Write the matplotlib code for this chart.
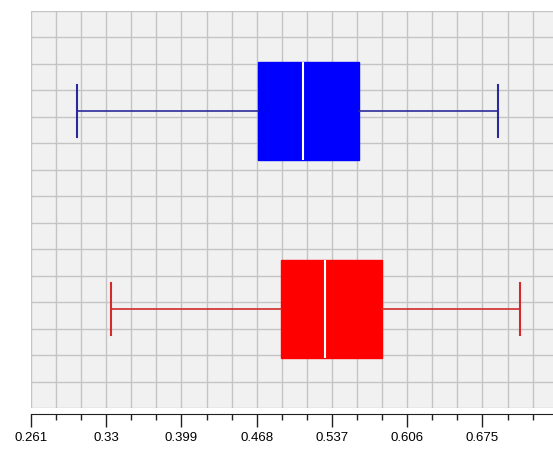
import matplotlib
matplotlib.use("Agg")
import matplotlib.pyplot as plt
import numpy as np
from matplotlib.ticker import MultipleLocator, FixedLocator

# box statistics (whisker low, q1, median, q3, whisker high)
series = ["blue", "red"]
whislo = [0.303, 0.334]
q1 = [0.469, 0.490]
med = [0.510, 0.531]
q3 = [0.562, 0.583]
whishi = [0.689, 0.709]

tick_labels = ["0.261", "0.33", "0.399", "0.468", "0.537", "0.606", "0.675"]
tick_values = [0.261, 0.330, 0.399, 0.468, 0.537, 0.606, 0.675]

BOX_COLORS = ["#0000FF", "#FF0000"]
WHISK_COLORS = ["#2A2A9A", "#D42A2A"]
positions = [3.77, 11.25]

fig = plt.figure(figsize=(5.53, 4.5), dpi=100)
ax = fig.add_axes([31 / 553, (450 - 408) / 450, (553 - 31) / 553, (408 - 11) / 450])
ax.set_facecolor("#F1F1F1")

for i in range(len(series)):
    stats = [{
        "whislo": whislo[i], "q1": q1[i], "med": med[i],
        "q3": q3[i], "whishi": whishi[i], "fliers": [],
    }]
    ax.bxp(stats, positions=[positions[i]], widths=3.7, vert=False,
           patch_artist=True, showfliers=False, manage_ticks=False,
           boxprops=dict(facecolor=BOX_COLORS[i], edgecolor=BOX_COLORS[i], linewidth=1),
           medianprops=dict(color="white", linewidth=1.5),
           whiskerprops=dict(color=WHISK_COLORS[i], linewidth=1.2),
           capprops=dict(color=WHISK_COLORS[i], linewidth=1.5),
           capwidths=1.95)

ax.set_xlim(0.261, 0.7397)
ax.set_ylim(15, 0)

ax.xaxis.set_major_locator(FixedLocator(tick_values))
ax.set_xticklabels(tick_labels)
ax.xaxis.set_minor_locator(MultipleLocator(0.023, offset=0.261))
ax.yaxis.set_major_locator(MultipleLocator(1))
ax.set_yticks([])
ax.set_yticks(np.arange(0, 16), minor=True)

ax.grid(True, which="minor", axis="both", color="#C4C4C4", linewidth=1)
ax.grid(True, which="major", axis="x", color="#C4C4C4", linewidth=1)
ax.set_axisbelow(True)

for s in ["top", "right", "left"]:
    ax.spines[s].set_visible(False)
ax.spines["bottom"].set_position(("outward", 4))
ax.spines["bottom"].set_color("#202020")

ax.tick_params(axis="x", which="major", length=9, width=1, color="#202020",
               labelsize=9.5, pad=4)
ax.tick_params(axis="x", which="minor", length=4, width=1, color="#202020")
ax.tick_params(axis="y", which="both", length=0)
for lab in ax.get_xticklabels():
    lab.set_fontfamily("Liberation Sans")

fig.savefig("out.png", dpi=100)
